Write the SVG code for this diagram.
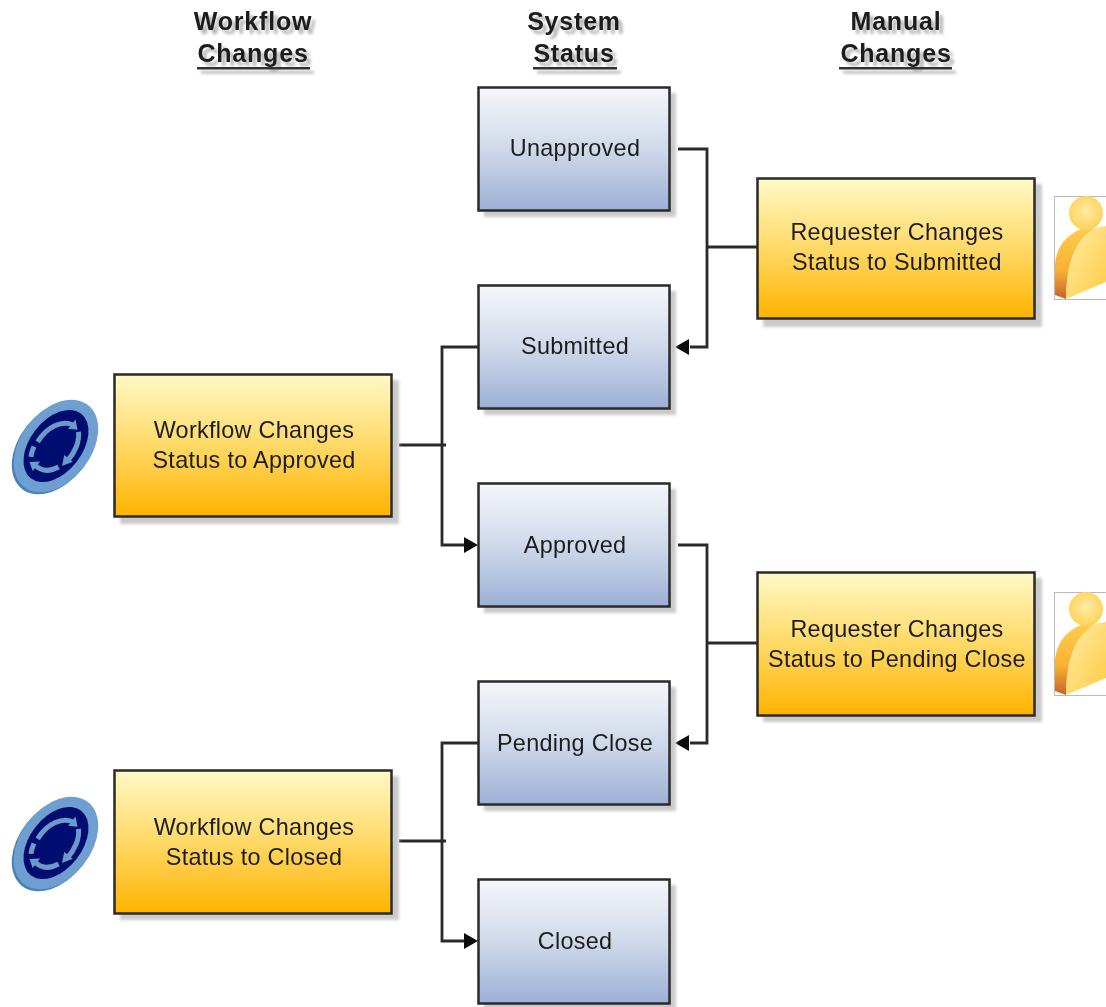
<svg xmlns="http://www.w3.org/2000/svg" width="1106" height="1007" viewBox="0 0 1106 1007">
<style>
text{font-family:"Liberation Sans",Arial,sans-serif;fill:#1c1c1c;text-anchor:middle}
.l{font-size:23.4px;letter-spacing:.3px}
.h{font-size:25px;font-weight:bold;letter-spacing:.8px}
.b{fill:url(#blue);stroke:#2a2a2a;stroke-width:2.500}
.y{fill:url(#yel);stroke:#2a2a2a;stroke-width:2.500}
.s{fill:#cacaca;filter:url(#b2)}
.c{fill:none;stroke:#2a2a2a;stroke-width:2.800}
.a{fill:#111}
</style>
<defs>
<linearGradient id="blue" x1="0" y1="0" x2="0" y2="1"><stop offset="0" stop-color="#f5f6fa"/><stop offset=".5" stop-color="#d0d9ea"/><stop offset="1" stop-color="#9cb0d6"/></linearGradient>
<linearGradient id="yel" x1="0" y1="0" x2="0" y2="1"><stop offset="0" stop-color="#fff9c6"/><stop offset=".5" stop-color="#ffd966"/><stop offset="1" stop-color="#ffb300"/></linearGradient>
<linearGradient id="body" x1="0" y1="0" x2="1" y2="1"><stop offset="0" stop-color="#ffeca8"/><stop offset="1" stop-color="#ffcb40"/></linearGradient>
<linearGradient id="side" x1="0" y1="0" x2="0" y2="1"><stop offset="0" stop-color="#ffcd50"/><stop offset=".6" stop-color="#f7b233"/><stop offset="1" stop-color="#c9602a"/></linearGradient>
<radialGradient id="head" cx=".5" cy=".45" r=".6"><stop offset="0" stop-color="#ffeba6"/><stop offset="1" stop-color="#ffd050"/></radialGradient>
<filter id="b2" x="-10%" y="-10%" width="120%" height="120%"><feGaussianBlur stdDeviation="1.8"/></filter>
<filter id="soft" x="-1%" y="-1%" width="102%" height="102%"><feGaussianBlur stdDeviation=".5"/></filter>
<filter id="hshadow" x="-10%" y="-20%" width="125%" height="150%"><feGaussianBlur in="SourceAlpha" stdDeviation="1.5" result="bl"/><feOffset in="bl" dx="4" dy="4" result="o"/><feComponentTransfer in="o" result="sh"><feFuncA type="linear" slope=".3"/></feComponentTransfer><feMerge><feMergeNode in="sh"/><feMergeNode in="SourceGraphic"/></feMerge></filter>
<g id="disc">
<ellipse cx="-2" cy="2" rx="35" ry="52" transform="rotate(38 -2 2)" fill="#4a80b8"/>
<ellipse cx="0" cy="0" rx="35" ry="52" transform="rotate(38)" fill="#6e9fd0"/>
<g transform="rotate(38)">
<ellipse rx="26" ry="41" fill="#050f70"/>
<g fill="none" stroke="#6c9bc9" stroke-width="5">
<path d="M-17 8C-19-10-11-24 0-27"/>
<path d="M9-25C16-18 19-6 18 4"/>
<path d="M15 15C11 24 4 29-5 28"/>
<path d="M-13 24C-15 21-16 18-17 14"/>
</g>
<path d="M-1-33L7-26-1-21Z M23 2L17 12 12 2Z M-3 22L-11 29-3 34Z" fill="#6c9bc9"/>
</g>
</g>
<g id="person">
<rect x=".5" y=".5" width="60" height="103" fill="#fff" stroke="#bbb" stroke-width="1"/>
<path d="M1 99V72C1 52 12 38 30 32L44 30C25 40 13 70 12 103Z" fill="url(#side)"/>
<path d="M12 103C12 70 20 44 40 33 46 30 52 30 54 30V85Z" fill="url(#body)"/>
<circle cx="32" cy="17" r="17" fill="url(#head)"/>
</g>
</defs>
<rect width="1106" height="1007" fill="#fff"/>
<g filter="url(#soft)">
<g id="headers" filter="url(#hshadow)">
<text class="h" x="253" y="30">Workflow</text><text class="h" x="253" y="62">Changes</text>
<rect x="197" y="67" width="113" height="2.500" fill="#333"/>
<text class="h" x="574" y="30">System</text><text class="h" x="574" y="62">Status</text>
<rect x="533" y="67" width="84" height="2.500" fill="#333"/>
<text class="h" x="896" y="30">Manual</text><text class="h" x="896" y="62">Changes</text>
<rect x="839" y="67" width="113" height="2.500" fill="#333"/>
</g>

<g id="connectors">
<path class="c" d="M678 149H707V347H690"/><path class="c" d="M707 247H757"/>
<path class="a" d="M675 347L689 339V355Z"/>
<path class="c" d="M478 347H442V545H464"/><path class="c" d="M399 445H446"/>
<path class="a" d="M478 545L464 537V553Z"/>
<path class="c" d="M678 545H707V743H690"/><path class="c" d="M707 643H757"/>
<path class="a" d="M675 743L689 735V751Z"/>
<path class="c" d="M478 743H442V941H464"/><path class="c" d="M399 841H446"/>
<path class="a" d="M478 941L464 933V949Z"/>
</g>

<g id="n-unapproved"><rect class="s" x="484" y="93" width="192" height="124"/><rect class="b" x="478.500" y="87.500" width="191" height="123"/><text class="l" x="575" y="156">Unapproved</text></g>
<g id="n-submitted"><rect class="s" x="484" y="291" width="192" height="124"/><rect class="b" x="478.500" y="285.500" width="191" height="123"/><text class="l" x="575" y="354">Submitted</text></g>
<g id="n-approved"><rect class="s" x="484" y="489" width="192" height="124"/><rect class="b" x="478.500" y="483.500" width="191" height="123"/><text class="l" x="575" y="553">Approved</text></g>
<g id="n-pending"><rect class="s" x="484" y="687" width="192" height="124"/><rect class="b" x="478.500" y="681.500" width="191" height="123"/><text class="l" x="575" y="751">Pending Close</text></g>
<g id="n-closed"><rect class="s" x="484" y="885" width="192" height="124"/><rect class="b" x="478.500" y="879.500" width="191" height="124"/><text class="l" x="575" y="949">Closed</text></g>

<g id="n-wf-approved"><use href="#disc" x="56" y="446"/><rect class="s" x="120" y="380" width="279" height="144"/><rect class="y" x="114.500" y="374.500" width="277" height="142"/><text class="l" x="254" y="438">Workflow Changes</text><text class="l" x="254" y="468">Status to Approved</text></g>
<g id="n-wf-closed"><use href="#disc" x="56" y="843"/><rect class="s" x="120" y="776" width="279" height="144"/><rect class="y" x="114.500" y="770.500" width="277" height="143"/><text class="l" x="254" y="835">Workflow Changes</text><text class="l" x="254" y="865">Status to Closed</text></g>
<g id="n-req-submitted"><rect class="s" x="763" y="184" width="279" height="143"/><rect class="y" x="757.500" y="178.500" width="277" height="140"/><text class="l" x="897" y="240">Requester Changes</text><text class="l" x="897" y="270">Status to Submitted</text><use href="#person" x="1054" y="196"/></g>
<g id="n-req-pending"><rect class="s" x="763" y="578" width="279" height="144"/><rect class="y" x="757.500" y="572.500" width="277" height="143"/><text class="l" x="897" y="637">Requester Changes</text><text class="l" x="897" y="667">Status to Pending Close</text><use href="#person" x="1054" y="592"/></g>
</g>
</svg>
